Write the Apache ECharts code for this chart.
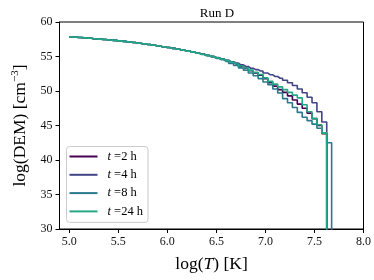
<!DOCTYPE html>
<html>
<head>
<meta charset="utf-8">
<script src="https://cdn.jsdelivr.net/npm/echarts@6/dist/echarts.min.js"></script>
<style>html,body{margin:0;padding:0;background:#fff}#c{width:374px;height:280px}</style>
</head>
<body>
<div id="c"></div>
<script>
// bin centres in log(T)
const logT = [5.00,5.05,5.10,5.15,5.20,5.25,5.30,5.35,5.40,5.45,
              5.50,5.55,5.60,5.65,5.70,5.75,5.80,5.85,5.90,5.95,
              6.00,6.05,6.10,6.15,6.20,6.25,6.30,6.35,6.40,6.45,
              6.50,6.55,6.60,6.65,6.70,6.75,6.80,6.85,6.90,6.95,
              7.00,7.05,7.10,7.15,7.20,7.25,7.30,7.35,7.40,7.45,
              7.50,7.55,7.60,7.65,7.70];
const seriesNames = ['t =2 h','t =4 h','t =8 h','t =24 h'];
const legendHours = ['2','4','8','24'];
const xTicks = [5.0,5.5,6.0,6.5,7.0,7.5,8.0];
const yTicks = [30,35,40,45,50,55,60];
// log(DEM) values; 20 = drop below the axis
const dem2h = [57.85,57.80,57.75,57.70,57.64,57.58,57.52,57.46,57.40,57.34,
               57.27,57.19,57.11,57.02,56.93,56.84,56.74,56.64,56.53,56.42,
               56.30,56.18,56.05,55.92,55.78,55.64,55.49,55.33,55.17,55.00,
               54.82,54.63,54.42,54.18,53.90,53.60,53.28,52.95,52.62,52.28,
               51.80,51.20,50.70,50.20,49.80,49.30,48.70,48.10,47.50,46.80,
               46.00,45.00,43.80,20,null];
const dem4h = [57.85,57.80,57.75,57.70,57.64,57.58,57.52,57.46,57.40,57.34,
               57.27,57.19,57.11,57.02,56.93,56.84,56.74,56.64,56.53,56.42,
               56.30,56.18,56.05,55.92,55.78,55.64,55.50,55.35,55.19,55.02,
               54.85,54.66,54.45,54.25,54.05,53.80,53.55,53.30,53.10,52.90,
               52.60,52.35,52.10,51.85,51.55,51.20,50.80,50.30,49.75,49.10,
               48.30,47.00,45.50,20,null];
const dem8h = [57.85,57.80,57.75,57.70,57.64,57.58,57.52,57.46,57.40,57.34,
               57.27,57.19,57.11,57.02,56.93,56.84,56.74,56.64,56.53,56.42,
               56.30,56.18,56.05,55.92,55.78,55.63,55.47,55.30,55.12,54.93,
               54.73,54.52,54.30,54.00,53.70,53.35,53.00,52.60,52.20,51.80,
               51.30,50.90,50.30,49.70,48.90,48.30,47.60,46.90,46.20,45.70,
               45.20,44.60,43.90,42.50,20];
const dem24h = [57.85,57.80,57.75,57.70,57.64,57.58,57.52,57.46,57.40,57.34,
               57.27,57.19,57.11,57.02,56.93,56.84,56.74,56.64,56.53,56.42,
               56.30,56.18,56.05,55.92,55.78,55.64,55.49,55.33,55.17,55.00,
               54.82,54.63,54.42,54.17,53.92,53.63,53.33,53.02,52.72,52.40,
               51.90,51.40,51.00,50.60,50.20,49.80,49.40,49.00,48.00,47.00,
               46.00,45.10,43.90,20,null];

const colors = ['#440154','#414487','#2a788e','#22a884'];
const allDem = [dem2h, dem4h, dem8h, dem24h];
const FONT = 'Liberation Serif';

function pairs(vals){ return logT.map((x,i)=>[x, vals[i]]); }

const chart = echarts.init(document.getElementById('c'), null, {renderer:'canvas'});
chart.setOption({
  animation:false,
  backgroundColor:'#fff',
  title:{text:'Run D', left:212, top:2, textAlign:'center',
         textStyle:{fontFamily:FONT, fontSize:13, fontWeight:'normal', color:'#000'}},
  grid:{left:59.5, right:9, top:22, bottom:51, show:true, borderColor:'#000', borderWidth:1, backgroundColor:'transparent'},
  legend:{
    orient:'vertical', left:66.5, top:146.5,
    data:seriesNames,
    icon:'rect', itemWidth:28, itemHeight:2, itemGap:4.3,
    padding:[3,5,4,3],
    backgroundColor:'rgba(255,255,255,0.8)',
    borderColor:'#ccc', borderWidth:1, borderRadius:3,
    formatter:function(name){ const i = seriesNames.indexOf(name); return '{i|t} =' + legendHours[i] + ' h'; },
    textStyle:{fontFamily:FONT, fontSize:12.5, color:'#000', lineHeight:14, padding:[0,0,0,5],
      rich:{i:{fontFamily:FONT, fontSize:12.5, fontStyle:'italic', color:'#000'}}}
  },
  xAxis:{
    type:'value', min:4.9, max:8.0,
    name:'log({i|T}) [K]', nameLocation:'middle', nameGap:26,
    nameTextStyle:{fontFamily:FONT, fontSize:17.5, color:'#000',
      rich:{i:{fontFamily:FONT, fontSize:17.5, fontStyle:'italic', color:'#000'}}},
    axisLine:{show:true, onZero:false, lineStyle:{color:'#000', width:1}},
    axisTick:{show:true, length:4, inside:false, customValues:xTicks, lineStyle:{color:'#000'}},
    axisLabel:{customValues:xTicks, margin:7, fontFamily:FONT, fontSize:12, color:'#111',
      formatter:v=>v.toFixed(1)},
    splitLine:{show:false}
  },
  yAxis:{
    type:'value', min:30, max:60, interval:5,
    name:'log(DEM) [cm{s|−3}]', nameLocation:'middle', nameGap:27, nameRotate:90,
    nameTextStyle:{fontFamily:FONT, fontSize:17.5, color:'#000',
      rich:{s:{fontFamily:FONT, fontSize:11, color:'#000', padding:[0,0,10,0]}}},
    axisLine:{show:true, onZero:false, lineStyle:{color:'#000', width:1}},
    axisTick:{show:true, length:4, inside:false, lineStyle:{color:'#000'}},
    axisLabel:{margin:7, fontFamily:FONT, fontSize:12, color:'#111',
      customValues:yTicks},
    splitLine:{show:false}
  },
  series: allDem.map((d,i)=>({
    name:seriesNames[i], type:'line', step:'middle',
    data:pairs(d), showSymbol:false, symbol:'none', clip:true,
    connectNulls:false,
    lineStyle:{color:colors[i], width:1.6},
    itemStyle:{color:colors[i]},
    emphasis:{disabled:true}
  }))
});
</script>
</body>
</html>
